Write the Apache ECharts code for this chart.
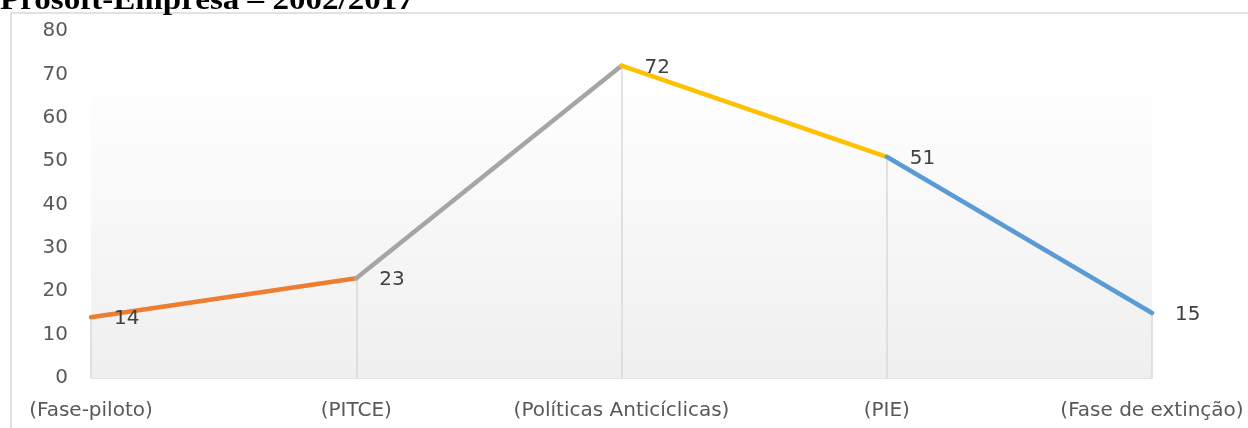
<!DOCTYPE html>
<html><head><meta charset="utf-8">
<script src="https://cdn.jsdelivr.net/npm/echarts@6/dist/echarts.min.js"></script>
<style>html,body{margin:0;padding:0;background:#fff}#c{width:1248px;height:428px}</style>
</head><body><div id="c"></div>
<script>
var categories = ['(Fase-piloto)', '(PITCE)', '(Políticas Anticíclicas)', '(PIE)', '(Fase de extinção)'];
var values = [14, 23, 72, 51, 15];
var segmentColors = ['#ED7D31', '#A5A5A5', '#FFC000', '#5B9BD5'];
var titleText = 'Prosoft-Empresa – 2002/2017';
var yMax = 80, yStep = 10, plotFillTop = 70;

var font = '"DejaVu Sans", sans-serif';
var series = [];
for (var s = 0; s < values.length - 1; s++) {
  var d = values.map(function (v, i) { return (i === s || i === s + 1) ? v : null; });
  series.push({
    type: 'line', data: d, symbol: 'none', silent: true, z: 5,
    lineStyle: { color: segmentColors[s], width: 4.5, cap: 'round' }
  });
}
var drops = values.map(function (v, i) {
  return [{ coord: [i, 0] }, { coord: [i, v] }];
});
series.push({
  type: 'line', data: values, symbol: 'circle', symbolSize: 2, showSymbol: true, z: 6,
  itemStyle: { color: 'rgba(0,0,0,0)', borderWidth: 0 },
  lineStyle: { width: 0, color: 'rgba(0,0,0,0)' },
  label: { show: true, position: 'right', distance: 22, offset: [0, 2], color: '#404040', fontSize: 20, fontFamily: font },
  markArea: {
    silent: true,
    itemStyle: {
      color: { type: 'linear', x: 0, y: 0, x2: 0, y2: 1,
        colorStops: [{ offset: 0, color: '#ffffff' }, { offset: 1, color: '#efefef' }] }
    },
    data: [[{ coord: [0, plotFillTop] }, { coord: [values.length - 1, 0] }]]
  },
  markLine: {
    silent: true, symbol: 'none', label: { show: false },
    lineStyle: { color: '#d9d9d9', width: 1.5, type: 'solid' },
    data: drops
  }
});

var chart = echarts.init(document.getElementById('c'), null, { renderer: 'canvas' });
chart.setOption({
  animation: false,
  backgroundColor: '#fff',
  graphic: [
    { type: 'rect', shape: { x: 11, y: 13, width: 1300, height: 500 }, style: { fill: 'none', stroke: '#d9d9d9', lineWidth: 1.5 }, z: 0 },
    { type: 'text', x: 0, y: -13, scaleX: 1.14, style: { text: titleText, font: 'bold 29px "Liberation Serif", "Times New Roman", serif', fill: '#000' }, z: 10 }
  ],
  grid: { left: 91, right: 96, top: 31, bottom: 50 },
  xAxis: {
    type: 'category', data: categories, boundaryGap: false,
    axisLine: { lineStyle: { color: '#d9d9d9', width: 1.5 } },
    axisTick: { show: false },
    axisLabel: { color: '#595959', fontSize: 20, fontFamily: font, margin: 23, interval: 0 },
    splitLine: { show: false }
  },
  yAxis: {
    type: 'value', min: 0, max: yMax, interval: yStep,
    axisLine: { show: false }, axisTick: { show: false },
    axisLabel: { color: '#595959', fontSize: 20, fontFamily: font, margin: 23 },
    splitLine: { show: false }
  },
  series: series
});
</script></body></html>
